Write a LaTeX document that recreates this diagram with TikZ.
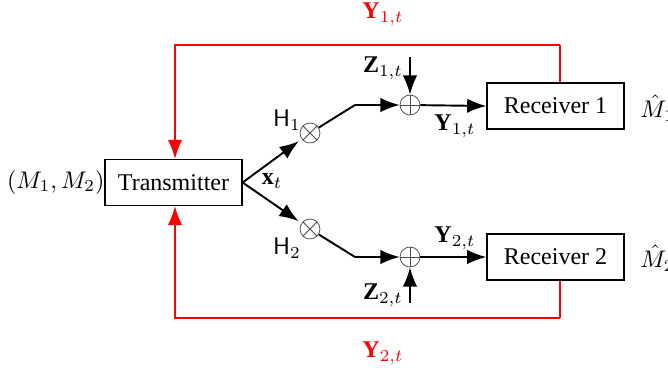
\documentclass[tikz,border=0pt]{standalone}
\usepackage{fontspec}
\setmainfont{Liberation Serif}
\usetikzlibrary{arrows.meta}
\begin{document}
\begin{tikzpicture}[x=0.4167pt,y=-0.4167pt,
  box/.style={draw,line width=0.6pt,inner sep=0pt,minimum width=57pt,minimum height=19pt},
  arr/.style={line width=0.8pt,-{Latex[length=8pt,width=6pt]}},
  ln/.style={line width=0.8pt},
  redarr/.style={red,line width=0.65pt,-{Latex[length=8pt,width=6pt]}},
  redln/.style={red,line width=0.65pt},
  mult/.style={circle,draw=black!70,line width=0.3pt,minimum size=8.3pt,inner sep=0pt,
    path picture={\draw[black!70,line width=0.3pt] (path picture bounding box.north west)--(path picture bounding box.south east) (path picture bounding box.north east)--(path picture bounding box.south west);}},
  add/.style={circle,draw=black!70,line width=0.3pt,minimum size=8.3pt,inner sep=0pt,
    path picture={\draw[black!70,line width=0.3pt] (path picture bounding box.north)--(path picture bounding box.south) (path picture bounding box.east)--(path picture bounding box.west);}}
]
\useasboundingbox (0,0) rectangle (668,373);

\node[box] (tx) at (173.5,182.5) {Transmitter};
\node[box] (rx1) at (555.5,106) {Receiver 1};
\node[box] (rx2) at (555.5,257) {Receiver 2};
\node[anchor=east,inner sep=0pt] (msg) at (105,182) {$(M_1,M_2)$};
\node[anchor=west,inner sep=0pt] (mh1) at (640,108) {$\hat{M}_1$};
\node[anchor=west,inner sep=0pt] (mh2) at (640,258) {$\hat{M}_2$};

\node[mult] (m1) at (310,133) {};
\node[mult] (m2) at (310,229) {};
\node[add] (a1) at (410,105) {};
\node[add] (a2) at (410,257) {};
\coordinate (c1) at (355,105);
\coordinate (c2) at (355,257);
\coordinate (z1) at (410,57);
\coordinate (z2) at (410,303);

\draw[arr,shorten >=1.5pt] (tx.east) -- (m1);
\draw[arr,shorten >=1.5pt] (tx.east) -- (m2);
\draw[ln] (m1) -- (c1);
\draw[ln] (m2) -- (c2);
\draw[arr] (c1) -- (a1);
\draw[arr] (c2) -- (a2);
\draw[arr] (a1) -- (rx1.west);
\draw[arr] (a2) -- (rx2.west);
\draw[arr] (z1) -- (a1);
\draw[arr] (z2) -- (a2);

\node (lx) at (272,181) {$\mathbf{x}_t$};
\node (lh1) at (287,120) {$\mathsf{H}_1$};
\node (lh2) at (287,248) {$\mathsf{H}_2$};
\node (lz1) at (383,68) {$\mathbf{Z}_{1,t}$};
\node (lz2) at (383,295) {$\mathbf{Z}_{2,t}$};
\node (ly1) at (455,126) {$\mathbf{Y}_{1,t}$};
\node (ly2) at (455,238) {$\mathbf{Y}_{2,t}$};

\coordinate (r1) at (560,45);
\coordinate (t1) at (175,45);
\coordinate (r2) at (560,318);
\coordinate (t2) at (175,318);
\draw[redln] (rx1.north -| r1) -- (r1);
\draw[redarr] (r1) -- (t1) -- (tx.north -| t1);
\draw[redln] (rx2.south -| r2) -- (r2);
\draw[redarr] (r2) -- (t2) -- (tx.south -| t2);
\node[red] (fy1) at (383,14) {$\mathbf{Y}_{1,t}$};
\node[red] (fy2) at (383,353) {$\mathbf{Y}_{2,t}$};
\end{tikzpicture}
\end{document}
